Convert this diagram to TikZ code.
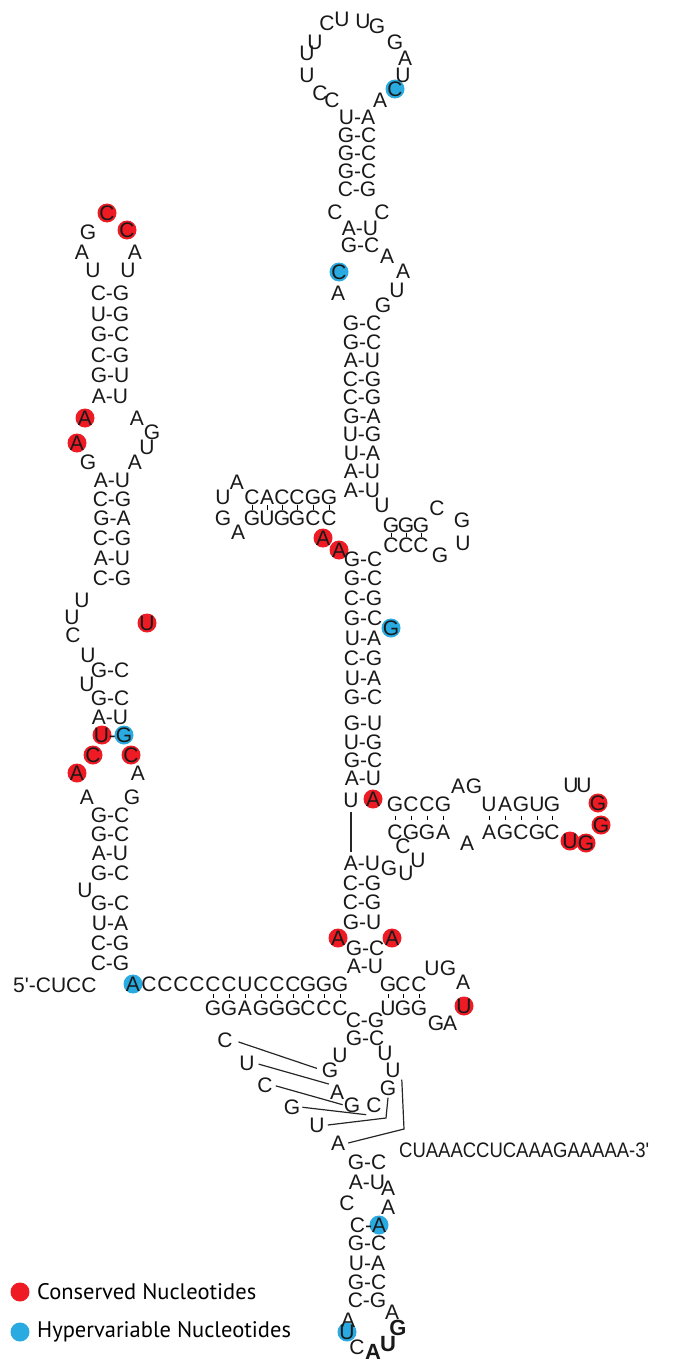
\documentclass[tikz,border=0pt]{standalone}
\usepackage{fontspec}
\usepackage{graphicx}
\usepackage{xcolor}
\usepackage{tikz}
\newfontfamily\ntfont{Liberation Sans}
\newfontfamily\legfont{PT Sans}
\definecolor{cons}{HTML}{EE1B24}
\definecolor{hyper}{HTML}{29AAE1}
\tikzset{
  nt/.style={font=\ntfont\fontsize{21}{25}\selectfont, inner sep=0pt, text height=15pt, text depth=0pt, text=black!90},
  ntbold/.style={nt, font=\ntfont\bfseries\fontsize{22}{26}\selectfont},
  bp/.style={line width=0.9pt, shorten <=#1, shorten >=#1},
  bp/.default=1pt,
  link/.style={line width=1.2pt, black!85},
  leg/.style={font=\legfont\fontsize{22.5}{26}\selectfont, anchor=west, inner sep=0pt},
}

\begin{document}
\begin{tikzpicture}[x=1pt,y=-1pt]
      \useasboundingbox (0,0) rectangle (692,1362);
      \foreach \x/\y in {107/213, 127/230, 85/418, 77/443, 147/623, 102/735, 93/755, 131/755, 77/773,
                         323/538, 339/550, 373/799, 598/803, 601/825, 570/841, 586/843,
                         338/938, 392/938, 464/1006}
        \fill[cons] (\x,\y) circle (9.5);
      \foreach \x/\y in {395/89, 339/272, 391/628, 124/735, 133/984, 379/1225, 347/1332}
        \fill[hyper] (\x,\y) circle (9.5);
      \foreach \x/\y/\b [count=\i] in {332/100/C, 320/93/C, 307/75/U, 307/53/U, 315/42/U, 327/23/C, 342/19/U,
                                       363/21/U, 377/26/G, 395/42/G, 405/58/A, 403/75/U, 395/89/C, 380/100/A}
        \node[nt] (ha\i) at (\x,\y) {\b};
      \foreach \y/\p [count=\i] in {117/U-A, 135/G-C, 153/G-C, 171/G-C, 189/C-G}
        \node[nt] (sa\i) at (357,\y) {\p};
      \foreach \x/\y/\b [count=\i] in {335/212/C, 382/212/C, 387/256/A, 403/271/A, 397/290/U, 383/305/G, 339/272/C, 338/293/A}
        \node[nt] (ib\i) at (\x,\y) {\b};
      \foreach \y/\p [count=\i] in {228/A-U, 245/G-C}
        \node[nt] (sb\i) at (360,\y) {\p};
      \foreach \y/\p [count=\i] in {323/G-C, 341.5/G-C, 360/A-U, 378.5/C-G, 397/C-G, 415.5/G-A, 434/U-G, 452.5/U-A, 471/A-U, 489.5/A-U}
        \node[nt] (sc\i) at (362,\y) {\p};
      \node[nt] (ju) at (382,505) {U};
      \foreach \x/\b [count=\i] in {223/U, 252/C, 267/A, 282/C, 297/C, 313/G, 329/G}
        \node[nt] (la\i) at (\x,497) {\b};
      \foreach \x/\b [count=\i] in {223/G, 252/G, 267/U, 282/G, 297/G, 313/C, 329/C}
        \node[nt] (lb\i) at (\x,518) {\b};
      \node[nt] (lta) at (237,482) {A};
      \node[nt] (lba) at (238,532) {A};
      \foreach \i in {2,...,7}
        \draw[bp=0.6pt] (la\i.south) -- (lb\i.north);
      \foreach \x/\b [count=\i] in {391/G, 406/G, 421/G}
        \node[nt] (ra\i) at (\x,525) {\b};
      \foreach \x/\b [count=\i] in {391/C, 406/C, 421/C}
        \node[nt] (rb\i) at (\x,545) {\b};
      \foreach \x/\y/\b [count=\i] in {437/508/C, 462/520/G, 463/543/U, 440/555/G}
        \node[nt] (rl\i) at (\x,\y) {\b};
      \foreach \i in {1,2,3}
        \draw[bp=0.5pt] (ra\i.south) -- (rb\i.north);
      \node[nt] (aa1) at (323,538) {A};
      \node[nt] (aa2) at (339,550) {A};
      \foreach \y/\p [count=\i] in {559/G-C, 578/G-C, 598/C-G, 618/G-C, 638/U-A, 658/C-G, 678/U-A, 697/G-C,
                                    723/G-U, 742/U-G, 760/G-C, 778/A-U}
        \node[nt] (sd\i) at (363,\y) {\p};
      \node[nt] (gv) at (391,628) {G};
      \node[nt] (ul) at (351,800) {U};
      \node[nt] (am) at (373,799) {A};
      \foreach \x/\b [count=\i] in {395/G, 411/C, 427/C, 443/G, 489/U, 505/A, 521/G, 537/U, 552/G}
        \node[nt] (ea\i) at (\x,804) {\b};
      \foreach \x/\b [count=\i] in {395/C, 411/G, 427/G, 443/A, 489/A, 505/G, 521/C, 537/G, 552/C}
        \node[nt] (eb\i) at (\x,832) {\b};
      \foreach \i in {1,...,9}
        \draw[bp=4pt] (ea\i.south) -- (eb\i.north);
      \foreach \x/\y/\b [count=\i] in {458/786/A, 474/786/G, 571/785/U, 584/785/U, 598/803/G, 601/825/G, 586/843/G,
                                       570/841/U, 467/843/A, 403/846/C, 418/860/U, 406/873/U, 389/868/G}
        \node[nt] (el\i) at (\x,\y) {\b};
      \foreach \y/\p [count=\i] in {863/A-U, 883/C-G, 902/C-G, 922/G-U}
        \node[nt] (se\i) at (362,\y) {\p};
      \draw[link, shorten <=4pt, shorten >=3pt] (ul.south) -- (ul.south |- se1.north);
      \node[nt] (sf1) at (365,948) {G-C};
      \node[nt] (sf2) at (365,966) {A-U};
      \node[nt] (ax1) at (338,938) {A};
      \node[nt] (ax2) at (392,938) {A};
      \foreach \x/\y/\b [count=\i] in {93/270/U, 82/252/A, 88/232/G, 107/213/C, 127/230/C, 135/252/A, 128/270/U}
        \node[nt] (ka\i) at (\x,\y) {\b};
      \foreach \y/\p [count=\i] in {293/C-G, 313.5/U-G, 334/G-C, 354.5/C-G, 375/G-U, 395.5/A-U}
        \node[nt] (sk\i) at (110,\y) {\p};
      \foreach \x/\y/\b [count=\i] in {85/418/A, 77/443/A, 88/462/G, 137/418/A, 152/432/G, 147/447/U, 135/462/A}
        \node[nt] (kb\i) at (\x,\y) {\b};
      \foreach \y/\p [count=\i] in {480/A-U, 499/C-G, 518/G-A, 538/C-G, 558/A-U, 578/C-G}
        \node[nt] (sl\i) at (112,\y) {\p};
      \foreach \x/\y/\b [count=\i] in {82/600/U, 72/617/U, 73/635/C, 88/655/U, 147/623/U, 87/684/U}
        \node[nt] (kc\i) at (\x,\y) {\b};
      \foreach \y/\p [count=\i] in {670/G-C, 698/G-C, 717/A-U}
        \node[nt] (sm\i) at (110,\y) {\p};
      \node[nt] (sm4) at (113,735) {U-G};
      \foreach \x/\y/\b [count=\i] in {93/755/C, 131/755/C, 77/773/A, 138/773/A, 87/797/A, 132/797/G}
        \node[nt] (kd\i) at (\x,\y) {\b};
      \foreach \y/\p [count=\i] in {815/G-C, 834/G-C, 853/A-U, 873/G-C, 903/G-C, 923/U-A, 943/C-G, 963/C-G}
        \node[nt] (sn\i) at (110,\y) {\p};
      \node[nt] (ku) at (85,890) {U};
      \node[nt, anchor=west] (five) at (13,985) {5'-CUCC};
      \foreach \x/\b [count=\i] in {133/A, 149/C, 165/C, 181/C, 197/C, 213/C, 229/C, 245/U, 261/C, 277/C, 293/C, 308/G, 324/G, 340/G}
        \node[nt] (ja\i) at (\x,984) {\b};
      \foreach \x/\b [count=\i] in {213/G, 229/G, 245/A, 261/G, 277/G, 293/G, 308/C, 324/C, 340/C}
        \node[nt] (jb\i) at (\x,1008) {\b};
      \foreach \i [evaluate=\i as \j using int(\i+5)] in {1,...,9}
        \draw[bp=2pt] (ja\j.south) -- (jb\i.north);
      \foreach \y/\p [count=\i] in {1020/C-G, 1038/G-C}
        \node[nt] (sg\i) at (365,\y) {\p};
      \foreach \x/\b [count=\i] in {388/G, 403/C, 419/C}
        \node[nt] (ga\i) at (\x,984) {\b};
      \foreach \x/\b [count=\i] in {388/U, 403/G, 419/G}
        \node[nt] (gb\i) at (\x,1008) {\b};
      \foreach \i in {1,2,3}
        \draw[bp=2pt] (ga\i.south) -- (gb\i.north);
      \foreach \x/\y/\b [count=\i] in {432/968/U, 448/968/G, 463/982/A, 464/1006/U, 450/1023/A, 436/1023/G}
        \node[nt] (gl\i) at (\x,\y) {\b};
      \foreach \x/\y/\b [count=\i] in {340/1055/U, 330/1070/G, 337/1092/A, 352/1105/G, 385/1053/U, 393/1070/U, 388/1088/G, 374/1105/C}
        \node[nt] (pk\i) at (\x,\y) {\b};
      \foreach \x/\y/\b [count=\i] in {225/1040/C, 247/1063/U, 265/1085/C, 292/1107/G, 317/1125/U, 338/1143/A}
        \node[nt] (pl\i) at (\x,\y) {\b};
      \coordinate (bu) at (386,1118);
      \coordinate (ba) at (404,1129);
      \draw[link, shorten <=6pt, shorten >=5pt] (pl1.east) -- (pk2.west);
      \draw[link, shorten <=4pt, shorten >=1pt] (pl2.east) -- (pk3.north west);
      \draw[link, shorten <=3pt, shorten >=1pt] (pl3.east) -- (pk4.west);
      \draw[link, shorten <=2pt] (pl4.east) -- ([yshift=-2pt]pk8.south west);
      \draw[link] ([xshift=3pt]pl5.east) -- (bu) -- ([yshift=-2pt]pk7.south);
      \draw[link] ([xshift=3pt]pl6.east) -- (ba) -- ([xshift=1pt,yshift=-2pt]pk6.south east);
      \node[nt, anchor=west] (tail) at (399,1150) {\scalebox{0.88}[1]{CUAAACCUCAAAGAAAAA-3'}};
      \foreach \y/\p [count=\i] in {1162/G-C, 1182/A-U}
        \node[nt] (sh\i) at (367,\y) {\p};
      \node[nt] (sh3) at (368,1225) {C-A};
      \foreach \y/\p [count=\i] in {1243/G-C, 1263/U-A, 1282/G-C, 1300/C-G}
        \node[nt] (si\i) at (367,\y) {\p};
      \foreach \x/\y/\b [count=\i] in {388/1188/A, 388/1207/A, 347/1203/C, 348/1320/A, 392/1312/A, 347/1332/U, 357/1347/C}
        \node[nt] (hl\i) at (\x,\y) {\b};
      \node[ntbold] (hb1) at (373,1352) {A};
      \node[ntbold] (hb2) at (388,1344) {U};
      \node[ntbold] (hb3) at (398,1328) {G};
      \fill[cons] (20,1292) circle (9.5);
      \fill[hyper] (20,1332) circle (9.5);
      \node[leg] (lg1) at (37,1292) {Conserved Nucleotides};
      \node[leg] (lg2) at (37,1332) {Hypervariable Nucleotides};
    \end{tikzpicture}
\end{document}
